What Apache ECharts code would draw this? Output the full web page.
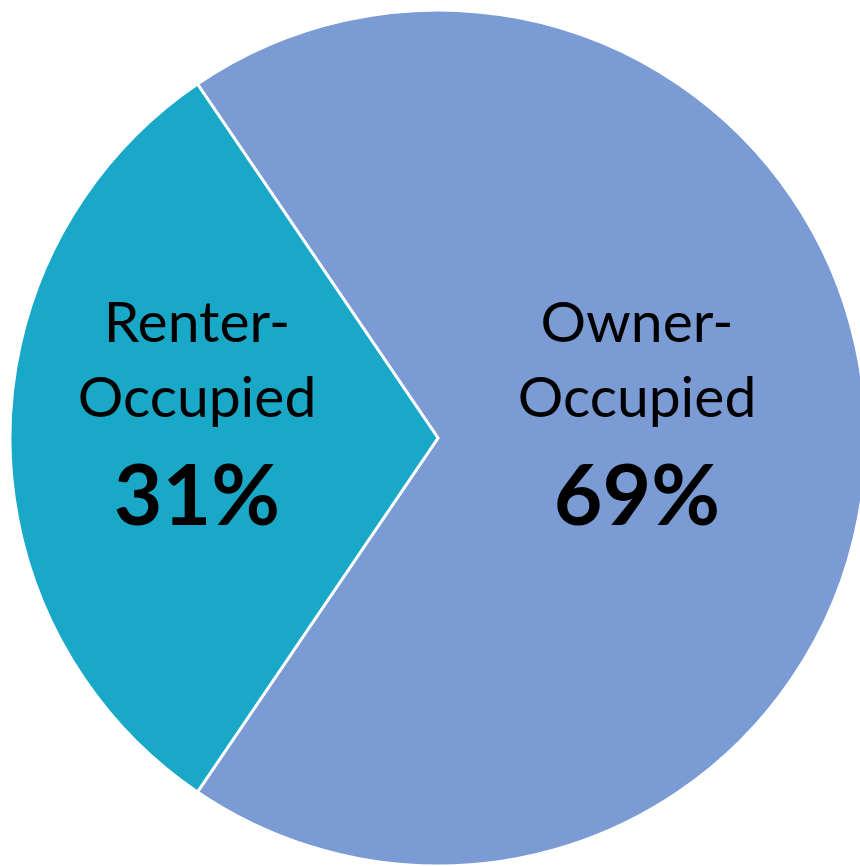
<!DOCTYPE html>
<html lang="en">
<head>
    <meta charset="UTF-8">
    <title>Housing Tenure</title>
    <script src="https://cdn.jsdelivr.net/npm/echarts@6.0.0/dist/echarts.min.js"></script>
    <style>
        html, body { margin: 0; padding: 0; background: #fff; }
        #chart { width: 860px; height: 866px; }
    </style>
</head>
<body>
    <div id="chart"></div>
    <script>
        const categories = ['Owner-Occupied', 'Renter-Occupied'];
        const labelLines = [['Owner-', 'Occupied'], ['Renter-', 'Occupied']];
        const shares = [69, 31];
        const colors = ['#7b9bd4', '#19a8c7'];

        const chart = echarts.init(document.getElementById('chart'));

        chart.setOption({
            animation: false,
            series: [{
                type: 'pie',
                center: [438, 438],
                radius: [0, 428],
                startAngle: 124.2,
                clockwise: true,
                data: categories.map((name, i) => ({
                    name: name,
                    value: shares[i],
                    itemStyle: { color: colors[i] }
                })),
                itemStyle: { borderColor: '#ffffff', borderWidth: 3 },
                label: {
                    show: true,
                    position: 'inner',
                    align: 'center',
                    formatter: function (p) {
                        const lines = labelLines[p.dataIndex];
                        return '{n|' + lines[0] + '}\n{n|' + lines[1] + '}\n{p|' + Math.round(p.percent) + '%}';
                    },
                    rich: {
                        n: { fontFamily: 'Lato', fontSize: 57, color: '#000', lineHeight: 75, align: 'center' },
                        p: { fontFamily: 'Lato', fontSize: 84, fontWeight: 'bold', color: '#000', lineHeight: 124, align: 'center' }
                    }
                },
                labelLine: { show: false },
                labelLayout: function (params) {
                    return params.dataIndex === 0 ? { dx: -18, dy: -15 } : { dx: -24, dy: -15 };
                }
            }]
        });
    </script>
</body>
</html>
